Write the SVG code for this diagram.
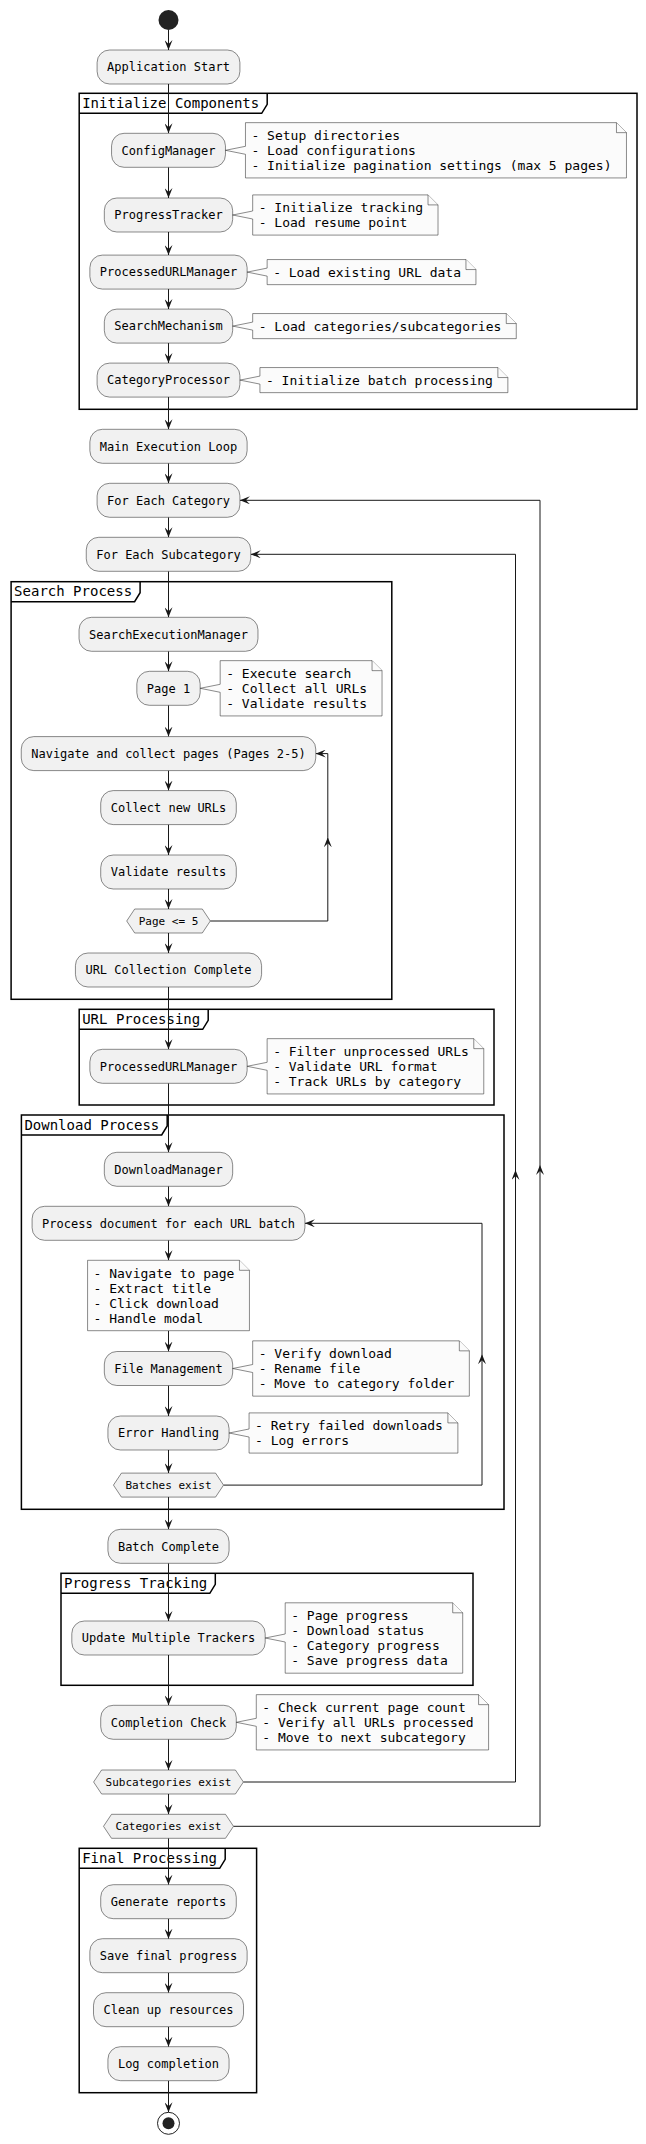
<svg xmlns="http://www.w3.org/2000/svg" width="646" height="2144" viewBox="0 0 646 2144">
<defs>
<style>
.box{fill:#F1F1F1;stroke:#181818;stroke-width:0.5}
.note{fill:#FBFBFB;stroke:#181818;stroke-width:0.5}
.frame{fill:none;stroke:#000000;stroke-width:1.5}
.hex{fill:#F1F1F1;stroke:#181818;stroke-width:0.5}
text{font-family:"DejaVu Sans Mono","Liberation Mono",monospace;fill:#000000;white-space:pre}
.a{font-size:12px;text-anchor:middle}
.n{font-size:13px}
.f{font-size:14px}
.d{font-size:11px;text-anchor:middle}
.c{fill:none;stroke:#181818;stroke-width:1}
</style>
<marker id="ah" viewBox="0 0 10 8" refX="10" refY="4" markerWidth="10" markerHeight="8" markerUnits="userSpaceOnUse" orient="auto">
<path d="M0,0 L10,4 L0,8 L4,4 Z" fill="#181818"/>
</marker>
</defs>
<rect x="0" y="0" width="646" height="2144" fill="#FFFFFF"/>

<g id="frames">
<g id="frame-init">
<rect class="frame" x="79.2" y="93.3" width="557.8" height="316"/>
<path class="frame" d="M79.2,113.3 H261.7 L267.2,104.3 V93.3"/>
<text class="f" x="82.2" y="108">Initialize Components</text>
</g>
<g id="frame-search">
<rect class="frame" x="11.1" y="581.7" width="380.7" height="417.6"/>
<path class="frame" d="M11.1,601.7 H134.6 L140.1,592.7 V581.7"/>
<text class="f" x="14.1" y="596.4">Search Process</text>
</g>
<g id="frame-url">
<rect class="frame" x="79.2" y="1009.3" width="414.8" height="95.7"/>
<path class="frame" d="M79.2,1029.3 H202.7 L208.2,1020.3 V1009.3"/>
<text class="f" x="82.2" y="1024">URL Processing</text>
</g>
<g id="frame-download">
<rect class="frame" x="21.4" y="1115" width="482.6" height="394.3"/>
<path class="frame" d="M21.4,1135 H161.7 L167.2,1126 V1115"/>
<text class="f" x="24.4" y="1129.7">Download Process</text>
</g>
<g id="frame-progress">
<rect class="frame" x="61" y="1573.3" width="412" height="112"/>
<path class="frame" d="M61,1593.3 H209.8 L215.3,1584.3 V1573.3"/>
<text class="f" x="64" y="1588">Progress Tracking</text>
</g>
<g id="frame-final">
<rect class="frame" x="79.2" y="1848.3" width="177.4" height="244.4"/>
<path class="frame" d="M79.2,1868.3 H219.7 L225.2,1859.3 V1848.3"/>
<text class="f" x="82.2" y="1863">Final Processing</text>
</g>
</g>

<g id="connectors">
<path class="c" marker-end="url(#ah)" d="M168.5,30 V50"/>
<path class="c" marker-end="url(#ah)" d="M168.5,84 V133.3"/>
<path class="c" marker-end="url(#ah)" d="M168.5,167.3 V198"/>
<path class="c" marker-end="url(#ah)" d="M168.5,232 V255.1"/>
<path class="c" marker-end="url(#ah)" d="M168.5,289.1 V309.1"/>
<path class="c" marker-end="url(#ah)" d="M168.5,343.1 V363.1"/>
<path class="c" marker-end="url(#ah)" d="M168.5,397.1 V429.3"/>
<path class="c" marker-end="url(#ah)" d="M168.5,463.3 V483.3"/>
<path class="c" marker-end="url(#ah)" d="M168.5,517.3 V537.3"/>
<path class="c" marker-end="url(#ah)" d="M168.5,571.3 V617.3"/>
<path class="c" marker-end="url(#ah)" d="M168.5,651.3 V671.3"/>
<path class="c" marker-end="url(#ah)" d="M168.5,705.3 V736.6"/>
<path class="c" marker-end="url(#ah)" d="M168.5,770.6 V790.6"/>
<path class="c" marker-end="url(#ah)" d="M168.5,824.6 V855"/>
<path class="c" marker-end="url(#ah)" d="M168.5,889 V909"/>
<path class="c" marker-end="url(#ah)" d="M168.5,933 V953"/>
<path class="c" marker-end="url(#ah)" d="M168.5,987 V1049.3"/>
<path class="c" marker-end="url(#ah)" d="M168.5,1083.3 V1152.3"/>
<path class="c" marker-end="url(#ah)" d="M168.5,1186.3 V1206.3"/>
<path class="c" marker-end="url(#ah)" d="M168.5,1240.3 V1260.3"/>
<path class="c" marker-end="url(#ah)" d="M168.5,1330.7 V1351.5"/>
<path class="c" marker-end="url(#ah)" d="M168.5,1385.5 V1416"/>
<path class="c" marker-end="url(#ah)" d="M168.5,1450 V1473.1"/>
<path class="c" marker-end="url(#ah)" d="M168.5,1497.1 V1529.3"/>
<path class="c" marker-end="url(#ah)" d="M168.5,1563.3 V1621"/>
<path class="c" marker-end="url(#ah)" d="M168.5,1655 V1705.3"/>
<path class="c" marker-end="url(#ah)" d="M168.5,1739.3 V1770"/>
<path class="c" marker-end="url(#ah)" d="M168.5,1794 V1814.3"/>
<path class="c" marker-end="url(#ah)" d="M168.5,1838.3 V1884.7"/>
<path class="c" marker-end="url(#ah)" d="M168.5,1918.7 V1938.7"/>
<path class="c" marker-end="url(#ah)" d="M168.5,1972.7 V1992.7"/>
<path class="c" marker-end="url(#ah)" d="M168.5,2026.7 V2046.7"/>
<path class="c" marker-end="url(#ah)" d="M168.5,2080.7 V2112.3"/>
<!-- loops -->
<path class="c" marker-end="url(#ah)" d="M210.3,921 H327.8 V837.3"/>
<path class="c" marker-end="url(#ah)" d="M327.8,837.3 V753.6 H315.76"/>
<path class="c" marker-end="url(#ah)" d="M223.55,1485.1 H482 V1354.2"/>
<path class="c" marker-end="url(#ah)" d="M482,1354.2 V1223.3 H304.92"/>
<path class="c" marker-end="url(#ah)" d="M243.4,1782 H515.5 V1170"/>
<path class="c" marker-end="url(#ah)" d="M515.5,1170 V554.3 H250.74"/>
<path class="c" marker-end="url(#ah)" d="M233.5,1826.3 H540 V1165"/>
<path class="c" marker-end="url(#ah)" d="M540,1165 V500.3 H239.91"/>
</g>

<g id="start"><circle cx="168.5" cy="20" r="10" fill="#222222"/></g>

<g id="n-appstart"><rect class="box" x="97.1" y="50" width="142.81" height="34" rx="12.5"/><text class="a" x="168.5" y="71.3">Application Start</text></g>

<g id="n-config"><rect class="box" x="111.55" y="133.3" width="113.91" height="34" rx="12.5"/><text class="a" x="168.5" y="154.6">ConfigManager</text></g>
<g id="note-config">
<path class="note" d="M245.46,122.65 V146.3 L225.46,150.3 L245.46,154.3 V177.95 H626.46 V132.65 L616.46,122.65 Z"/>
<path class="note" d="M616.46,122.65 V132.65 H626.46" fill="none"/>
<text class="n" x="251.46" y="139.85">- Setup directories</text>
<text class="n" x="251.46" y="154.95">- Load configurations</text>
<text class="n" x="251.46" y="170.05">- Initialize pagination settings (max 5 pages)</text>
</g>

<g id="n-progress"><rect class="box" x="104.32" y="198" width="128.36" height="34" rx="12.5"/><text class="a" x="168.5" y="219.3">ProgressTracker</text></g>
<g id="note-progress">
<path class="note" d="M252.68,194.9 V211 L232.68,215 L252.68,219 V235.1 H438.03 V204.9 L428.03,194.9 Z"/>
<path class="note" d="M428.03,194.9 V204.9 H438.03" fill="none"/>
<text class="n" x="258.68" y="212.1">- Initialize tracking</text>
<text class="n" x="258.68" y="227.2">- Load resume point</text>
</g>

<g id="n-purl1"><rect class="box" x="89.87" y="255.1" width="157.26" height="34" rx="12.5"/><text class="a" x="168.5" y="276.4">ProcessedURLManager</text></g>
<g id="note-purl1">
<path class="note" d="M267.13,259.55 V268.1 L247.13,272.1 L267.13,276.1 V284.65 H475.95 V269.55 L465.95,259.55 Z"/>
<path class="note" d="M465.95,259.55 V269.55 H475.95" fill="none"/>
<text class="n" x="273.13" y="276.75">- Load existing URL data</text>
</g>

<g id="n-search"><rect class="box" x="104.32" y="309.1" width="128.36" height="34" rx="12.5"/><text class="a" x="168.5" y="330.4">SearchMechanism</text></g>
<g id="note-search">
<path class="note" d="M252.68,313.55 V322.1 L232.68,326.1 L252.68,330.1 V338.65 H516.28 V323.55 L506.28,313.55 Z"/>
<path class="note" d="M506.28,313.55 V323.55 H516.28" fill="none"/>
<text class="n" x="258.68" y="330.75">- Load categories/subcategories</text>
</g>

<g id="n-catproc"><rect class="box" x="97.1" y="363.1" width="142.81" height="34" rx="12.5"/><text class="a" x="168.5" y="384.4">CategoryProcessor</text></g>
<g id="note-catproc">
<path class="note" d="M259.91,367.55 V376.1 L239.91,380.1 L259.91,384.1 V392.65 H507.86 V377.55 L497.86,367.55 Z"/>
<path class="note" d="M497.86,367.55 V377.55 H507.86" fill="none"/>
<text class="n" x="265.91" y="384.75">- Initialize batch processing</text>
</g>

<g id="n-mainloop"><rect class="box" x="89.87" y="429.3" width="157.26" height="34" rx="12.5"/><text class="a" x="168.5" y="450.6">Main Execution Loop</text></g>
<g id="n-eachcat"><rect class="box" x="97.1" y="483.3" width="142.81" height="34" rx="12.5"/><text class="a" x="168.5" y="504.6">For Each Category</text></g>
<g id="n-eachsub"><rect class="box" x="86.26" y="537.3" width="164.48" height="34" rx="12.5"/><text class="a" x="168.5" y="558.6">For Each Subcategory</text></g>

<g id="n-searchexec"><rect class="box" x="79.04" y="617.3" width="178.93" height="34" rx="12.5"/><text class="a" x="168.5" y="638.6">SearchExecutionManager</text></g>
<g id="n-page1"><rect class="box" x="136.83" y="671.3" width="63.34" height="34" rx="12.5"/><text class="a" x="168.5" y="692.6">Page 1</text></g>
<g id="note-page1">
<path class="note" d="M220.17,660.65 V684.3 L200.17,688.3 L220.17,692.3 V715.95 H382.04 V670.65 L372.04,660.65 Z"/>
<path class="note" d="M372.04,660.65 V670.65 H382.04" fill="none"/>
<text class="n" x="226.17" y="677.85">- Execute search</text>
<text class="n" x="226.17" y="692.95">- Collect all URLs</text>
<text class="n" x="226.17" y="708.05">- Validate results</text>
</g>
<g id="n-navigate"><rect class="box" x="21.25" y="736.6" width="294.51" height="34" rx="12.5"/><text class="a" x="168.5" y="757.9">Navigate and collect pages (Pages 2-5)</text></g>
<g id="n-collect"><rect class="box" x="100.71" y="790.6" width="135.58" height="34" rx="12.5"/><text class="a" x="168.5" y="811.9">Collect new URLs</text></g>
<g id="n-validate"><rect class="box" x="100.71" y="855" width="135.58" height="34" rx="12.5"/><text class="a" x="168.5" y="876.3">Validate results</text></g>
<g id="d-page5"><polygon class="hex" points="126.7,921 134.7,909 202.3,909 210.3,921 202.3,933 134.7,933"/><text class="d" x="168.5" y="925">Page &lt;= 5</text></g>
<g id="n-urlcomplete"><rect class="box" x="75.43" y="953" width="186.15" height="34" rx="12.5"/><text class="a" x="168.5" y="974.3">URL Collection Complete</text></g>

<g id="n-purl2"><rect class="box" x="89.87" y="1049.3" width="157.26" height="34" rx="12.5"/><text class="a" x="168.5" y="1070.6">ProcessedURLManager</text></g>
<g id="note-purl2">
<path class="note" d="M267.13,1038.65 V1062.3 L247.13,1066.3 L267.13,1070.3 V1093.95 H483.78 V1048.65 L473.78,1038.65 Z"/>
<path class="note" d="M473.78,1038.65 V1048.65 H483.78" fill="none"/>
<text class="n" x="273.13" y="1055.85">- Filter unprocessed URLs</text>
<text class="n" x="273.13" y="1070.95">- Validate URL format</text>
<text class="n" x="273.13" y="1086.05">- Track URLs by category</text>
</g>

<g id="n-download"><rect class="box" x="104.32" y="1152.3" width="128.36" height="34" rx="12.5"/><text class="a" x="168.5" y="1173.6">DownloadManager</text></g>
<g id="n-processdoc"><rect class="box" x="32.08" y="1206.3" width="272.84" height="34" rx="12.5"/><text class="a" x="168.5" y="1227.6">Process document for each URL batch</text></g>
<g id="note-steps">
<path class="note" d="M87.57,1260.3 V1330.7 H249.44 V1270.3 L239.44,1260.3 Z"/>
<path class="note" d="M239.44,1260.3 V1270.3 H249.44" fill="none"/>
<text class="n" x="93.57" y="1277.5">- Navigate to page</text>
<text class="n" x="93.57" y="1292.6">- Extract title</text>
<text class="n" x="93.57" y="1307.7">- Click download</text>
<text class="n" x="93.57" y="1322.8">- Handle modal</text>
</g>
<g id="n-filemgmt"><rect class="box" x="104.32" y="1351.5" width="128.36" height="34" rx="12.5"/><text class="a" x="168.5" y="1372.8">File Management</text></g>
<g id="note-filemgmt">
<path class="note" d="M252.68,1340.85 V1364.5 L232.68,1368.5 L252.68,1372.5 V1396.15 H469.33 V1350.85 L459.33,1340.85 Z"/>
<path class="note" d="M459.33,1340.85 V1350.85 H469.33" fill="none"/>
<text class="n" x="258.68" y="1358.05">- Verify download</text>
<text class="n" x="258.68" y="1373.15">- Rename file</text>
<text class="n" x="258.68" y="1388.25">- Move to category folder</text>
</g>
<g id="n-error"><rect class="box" x="107.93" y="1416" width="121.14" height="34" rx="12.5"/><text class="a" x="168.5" y="1437.3">Error Handling</text></g>
<g id="note-error">
<path class="note" d="M249.07,1412.9 V1429 L229.07,1433 L249.07,1437 V1453.1 H457.89 V1422.9 L447.89,1412.9 Z"/>
<path class="note" d="M447.89,1412.9 V1422.9 H457.89" fill="none"/>
<text class="n" x="255.07" y="1430.1">- Retry failed downloads</text>
<text class="n" x="255.07" y="1445.2">- Log errors</text>
</g>
<g id="d-batches"><polygon class="hex" points="113.45,1485.1 121.45,1473.1 215.55,1473.1 223.55,1485.1 215.55,1497.1 121.45,1497.1"/><text class="d" x="168.5" y="1489.1">Batches exist</text></g>

<g id="n-batchcomplete"><rect class="box" x="107.93" y="1529.3" width="121.14" height="34" rx="12.5"/><text class="a" x="168.5" y="1550.6">Batch Complete</text></g>

<g id="n-trackers"><rect class="box" x="71.81" y="1621" width="193.38" height="34" rx="12.5"/><text class="a" x="168.5" y="1642.3">Update Multiple Trackers</text></g>
<g id="note-trackers">
<path class="note" d="M285.19,1602.8 V1634 L265.19,1638 L285.19,1642 V1673.2 H462.71 V1612.8 L452.71,1602.8 Z"/>
<path class="note" d="M452.71,1602.8 V1612.8 H462.71" fill="none"/>
<text class="n" x="291.19" y="1620">- Page progress</text>
<text class="n" x="291.19" y="1635.1">- Download status</text>
<text class="n" x="291.19" y="1650.2">- Category progress</text>
<text class="n" x="291.19" y="1665.3">- Save progress data</text>
</g>

<g id="n-completion"><rect class="box" x="100.71" y="1705.3" width="135.58" height="34" rx="12.5"/><text class="a" x="168.5" y="1726.6">Completion Check</text></g>
<g id="note-completion">
<path class="note" d="M256.29,1694.65 V1718.3 L236.29,1722.3 L256.29,1726.3 V1749.95 H488.59 V1704.65 L478.59,1694.65 Z"/>
<path class="note" d="M478.59,1694.65 V1704.65 H488.59" fill="none"/>
<text class="n" x="262.29" y="1711.85">- Check current page count</text>
<text class="n" x="262.29" y="1726.95">- Verify all URLs processed</text>
<text class="n" x="262.29" y="1742.05">- Move to next subcategory</text>
</g>
<g id="d-subcats"><polygon class="hex" points="93.6,1782 101.6,1770 235.4,1770 243.4,1782 235.4,1794 101.6,1794"/><text class="d" x="168.5" y="1786">Subcategories exist</text></g>
<g id="d-cats"><polygon class="hex" points="103.5,1826.3 111.5,1814.3 225.5,1814.3 233.5,1826.3 225.5,1838.3 111.5,1838.3"/><text class="d" x="168.5" y="1830.3">Categories exist</text></g>

<g id="n-reports"><rect class="box" x="100.71" y="1884.7" width="135.58" height="34" rx="12.5"/><text class="a" x="168.5" y="1906">Generate reports</text></g>
<g id="n-savefinal"><rect class="box" x="89.87" y="1938.7" width="157.26" height="34" rx="12.5"/><text class="a" x="168.5" y="1960">Save final progress</text></g>
<g id="n-cleanup"><rect class="box" x="93.49" y="1992.7" width="150.03" height="34" rx="12.5"/><text class="a" x="168.5" y="2014">Clean up resources</text></g>
<g id="n-log"><rect class="box" x="107.93" y="2046.7" width="121.14" height="34" rx="12.5"/><text class="a" x="168.5" y="2068">Log completion</text></g>

<g id="end"><circle cx="168.5" cy="2123.3" r="11" fill="none" stroke="#222222" stroke-width="1"/><circle cx="168.5" cy="2123.3" r="6" fill="#222222"/></g>
</svg>
